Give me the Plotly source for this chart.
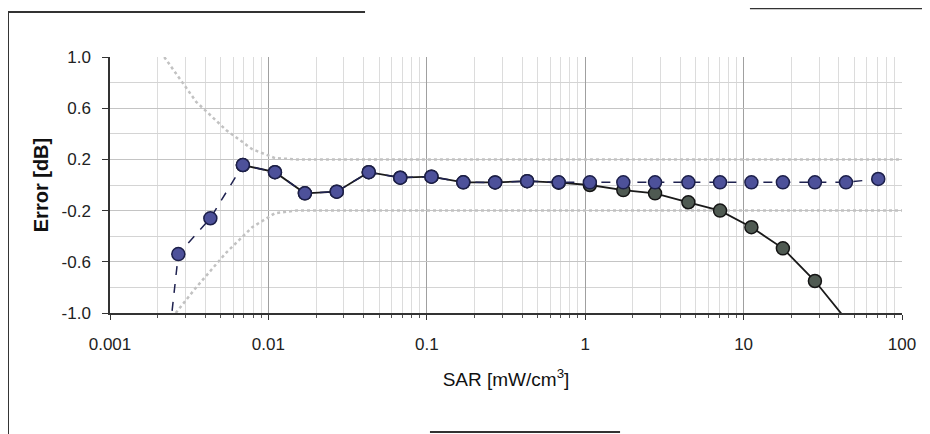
import plotly.graph_objects as go

# ---- data ----
sar_blue = [0.0017, 0.0027, 0.0043, 0.0069, 0.011, 0.017, 0.027, 0.043, 0.068, 0.107,
            0.17, 0.27, 0.43, 0.68, 1.07, 1.74, 2.76, 4.48, 7.1, 11.2, 17.7, 28.2, 44.3, 70.8]
err_blue = [-2.8, -0.54, -0.26, 0.156, 0.10, -0.065, -0.052, 0.10, 0.057, 0.065,
            0.021, 0.02, 0.03, 0.021, 0.021, 0.021, 0.021, 0.021, 0.021, 0.021, 0.021, 0.021, 0.021, 0.047]

sar_dark = [0.0069, 0.011, 0.017, 0.027, 0.043, 0.068, 0.107, 0.17, 0.27, 0.43,
            0.68, 1.07, 1.74, 2.76, 4.48, 7.1, 11.2, 17.7, 28.2, 44.3]
err_dark = [0.156, 0.10, -0.065, -0.052, 0.10, 0.057, 0.065, 0.021, 0.02, 0.03,
            0.018, 0.0, -0.04, -0.065, -0.135, -0.20, -0.33, -0.495, -0.75, -1.05]

bound_x_up = [0.0022, 0.0035, 0.0054, 0.0079, 0.011, 0.015, 100]
bound_up = [1.0, 0.65, 0.43, 0.28, 0.21, 0.2, 0.2]
bound_x_lo = [0.0026, 0.0035, 0.0054, 0.0079, 0.011, 0.015, 100]
bound_lo = [-1.0, -0.8, -0.53, -0.33, -0.22, -0.2, -0.2]

x_tickvals = [0.001, 0.01, 0.1, 1, 10, 100]
x_ticktext = ["0.001", "0.01", "0.1", "1", "10", "100"]
y_tickvals = [-1.0, -0.6, -0.2, 0.2, 0.6, 1.0]
y_ticktext = ["-1.0", "-0.6", "-0.2", "0.2", "0.6", "1.0"]

minor_x = [m * d for d in [0.001, 0.01, 0.1, 1, 10] for m in range(2, 10)]

FONT = "Liberation Sans, Arial, sans-serif"

fig = go.Figure()

# uncertainty bounds
for bx, by in ((bound_x_up, bound_up), (bound_x_lo, bound_lo)):
    fig.add_trace(go.Scatter(x=bx, y=by, mode="lines",
                             line=dict(color="#c2c2c2", width=2.5, dash="dot"),
                             showlegend=False, hoverinfo="skip"))

# dark series (solid); its last point lies just below the axis, so no marker there
dark_sizes = [13] * (len(sar_dark) - 1) + [0]
fig.add_trace(go.Scatter(x=sar_dark, y=err_dark, mode="lines+markers",
                         line=dict(color="#1a1a1a", width=1.8),
                         marker=dict(size=dark_sizes, color="#4f5a52", opacity=1,
                                     line=dict(color="#151515", width=1.5)),
                         showlegend=False))

# blue series (dashed)
fig.add_trace(go.Scatter(x=sar_blue, y=err_blue, mode="lines+markers",
                         line=dict(color="#1f2250", width=1.5, dash="dash"),
                         marker=dict(size=13, color="#4d519a", opacity=1,
                                     line=dict(color="#1c1f4a", width=1.5)),
                         showlegend=False))

fig.update_xaxes(type="log", range=[-3, 2],
                 tickmode="array", tickvals=x_tickvals, ticktext=x_ticktext,
                 showgrid=True, gridcolor="#a0a0a0", gridwidth=1,
                 minor=dict(tickvals=minor_x, showgrid=True, gridcolor="#dcdcdc",
                            gridwidth=1, ticks="outside", ticklen=3, tickcolor="#555"),
                 showline=True, linecolor="#333", linewidth=1.5,
                 ticks="outside", ticklen=5, tickcolor="#333",
                 ticklabelstandoff=10,
                 tickfont=dict(family=FONT, size=17, color="#222"),
                 title=dict(text="SAR [mW/cm<sup>3</sup>]",
                            font=dict(family=FONT, size=19, color="#111"), standoff=20),
                 zeroline=False)

fig.update_yaxes(range=[-1, 1],
                 tickmode="array", tickvals=y_tickvals, ticktext=y_ticktext,
                 showgrid=True, gridcolor="#c4c4c4", gridwidth=1,
                 minor=dict(dtick=0.2, tick0=0, showgrid=True, gridcolor="#d4d4d4", gridwidth=1),
                 showline=True, linecolor="#333", linewidth=1.5,
                 ticks="outside", ticklen=6, tickcolor="#333",
                 ticklabelstandoff=8,
                 tickfont=dict(family=FONT, size=17, color="#222"),
                 title=dict(text="<b>Error [dB]</b>",
                            font=dict(family=FONT, size=20, color="#111"), standoff=8),
                 zeroline=False)

# outer frame segments
frame = dict(color="#333", width=2)
fig.add_shape(type="line", xref="paper", yref="paper",
              x0=-0.1288, x1=-0.1288, y0=1.176, y1=-0.55, line=frame)
fig.add_shape(type="line", xref="paper", yref="paper",
              x0=-0.1288, x1=0.322, y0=1.176, y1=1.176, line=frame)
fig.add_shape(type="line", xref="paper", yref="paper",
              x0=0.808, x1=1.05, y0=1.19, y1=1.19, line=frame)
fig.add_shape(type="line", xref="paper", yref="paper",
              x0=0.404, x1=0.644, y0=-0.465, y1=-0.465, line=frame)

# the page is shown with an 8px body margin, so the figure is offset by 8px
fig.update_layout(width=930, height=434,
                  margin=dict(l=102, r=36, t=49, b=129),
                  paper_bgcolor="white", plot_bgcolor="white",
                  font=dict(family=FONT))

fig.write_html("out.html")
